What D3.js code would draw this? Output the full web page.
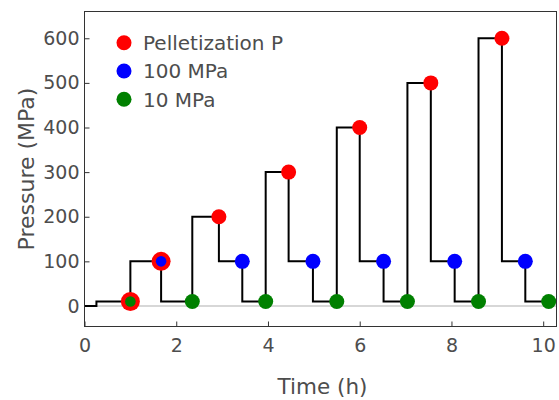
<!DOCTYPE html>
<html><head><meta charset="utf-8">
<script src="https://cdn.jsdelivr.net/npm/d3@7"></script>
<style>body{margin:0;background:#fff}svg{display:block}text{font-family:"DejaVu Sans",Verdana,sans-serif;fill:#4d4d4d}</style>
</head><body>
<script>
// step profile (time in h, pressure in MPa, step-after)
const stepTimes = [0, 0.26, 1.0, 1.67, 2.35, 2.93, 3.44, 3.95, 4.45, 4.98, 5.50, 6.00, 6.52, 7.04, 7.55, 8.07, 8.59, 9.10, 9.61, 10.12];
const stepPressures = [0, 10, 100, 10, 200, 100, 10, 300, 100, 10, 400, 100, 10, 500, 100, 10, 600, 100, 10, 10];
// markers
const pelletTimes = [1.0, 1.67, 2.93, 4.45, 6.00, 7.55, 9.10];
const pelletValues = [10, 100, 200, 300, 400, 500, 600];
const mpa100Times = [1.67, 3.44, 4.98, 6.52, 8.07, 9.61];
const mpa100Values = [100, 100, 100, 100, 100, 100];
const mpa10Times = [1.0, 2.35, 3.95, 5.50, 7.04, 8.59, 10.12];
const mpa10Values = [10, 10, 10, 10, 10, 10, 10];
const xTicks = [0, 2, 4, 6, 8, 10];
const yTicks = [0, 100, 200, 300, 400, 500, 600];
const seriesNames = ["Pelletization P", "100 MPa", "10 MPa"];
const seriesColors = ["#ff0000", "#0000ff", "#008000"];

const W = 559, H = 400;
const L = 84.5, R = 556.5, T = 11.5, B = 326.5;
const svg = d3.select("body").append("svg").attr("width", W).attr("height", H);
const x = d3.scaleLinear().domain([0, 10.29]).range([L, R]);
const y = d3.scaleLinear().domain([-46, 660]).range([B, T]);

// zero line
svg.append("line").attr("x1", L).attr("x2", R).attr("y1", y(0)).attr("y2", y(0))
  .attr("stroke", "#b0b0b0").attr("stroke-width", 1.2);

// axes
const xAxis = d3.axisBottom(x).tickValues(xTicks).tickSize(-5).tickPadding(12).tickFormat(d3.format("d"));
const gx = svg.append("g").attr("transform", `translate(0,${B})`).call(xAxis);
const yAxis = d3.axisLeft(y).tickValues(yTicks).tickSize(-5).tickPadding(5).tickFormat(d3.format("d"));
const gy = svg.append("g").attr("transform", `translate(${L},0)`).call(yAxis);
[gx, gy].forEach(g => {
  g.select(".domain").remove();
  g.selectAll(".tick line").attr("stroke", "#333").attr("stroke-width", 1);
  g.selectAll(".tick text").style("font-size", "19px").attr("fill", "#4d4d4d");
});

// step line
const pts = stepTimes.map((t, i) => [t, stepPressures[i]]);
const line = d3.line().x(d => x(d[0])).y(d => y(d[1])).curve(d3.curveStepAfter);
svg.append("path").datum(pts).attr("d", line).attr("fill", "none")
  .attr("stroke", "#000").attr("stroke-width", 2);

// markers
const key = (t, v) => t.toFixed(2) + "_" + v;
const others = new Set([...mpa100Times.map((t, i) => key(t, mpa100Values[i])), ...mpa10Times.map((t, i) => key(t, mpa10Values[i]))]);
const pellet = pelletTimes.map((t, i) => ({t, v: pelletValues[i], over: others.has(key(t, pelletValues[i]))}));
const pelletSet = new Set(pellet.map(d => key(d.t, d.v)));
svg.append("g").selectAll("circle").data(pellet).join("circle")
  .attr("cx", d => x(d.t)).attr("cy", d => y(d.v)).attr("r", d => d.over ? 9.5 : 7.5)
  .attr("fill", seriesColors[0]);
const drawSeries = (ts, vs, col) => {
  const data = ts.map((t, i) => ({t, v: vs[i], under: pelletSet.has(key(t, vs[i]))}));
  svg.append("g").selectAll("circle").data(data).join("circle")
    .attr("cx", d => x(d.t)).attr("cy", d => y(d.v)).attr("r", d => d.under ? 5.3 : 7.5)
    .attr("fill", col);
};
drawSeries(mpa100Times, mpa100Values, seriesColors[1]);
drawSeries(mpa10Times, mpa10Values, seriesColors[2]);

// frame
svg.append("rect").attr("x", L).attr("y", T).attr("width", R - L).attr("height", B - T)
  .attr("fill", "none").attr("stroke", "#333").attr("stroke-width", 1);

// legend
const lg = svg.append("g");
seriesNames.forEach((n, i) => {
  const yy = 42.7 + i * 28.3;
  lg.append("circle").attr("cx", 124).attr("cy", yy).attr("r", 7.5).attr("fill", seriesColors[i]);
  lg.append("text").attr("x", 143).attr("y", yy).attr("dy", "0.36em").style("font-size", "20px").text(n);
});

// axis titles
svg.append("text").attr("x", (L + R) / 2 + 2).attr("y", 393.5).attr("text-anchor", "middle")
  .style("font-size", "21.5px").text("Time (h)");
svg.append("text").attr("transform", `translate(34,${(T + B) / 2}) rotate(-90)`).attr("text-anchor", "middle")
  .style("font-size", "22px").text("Pressure (MPa)");
</script>
</body></html>
